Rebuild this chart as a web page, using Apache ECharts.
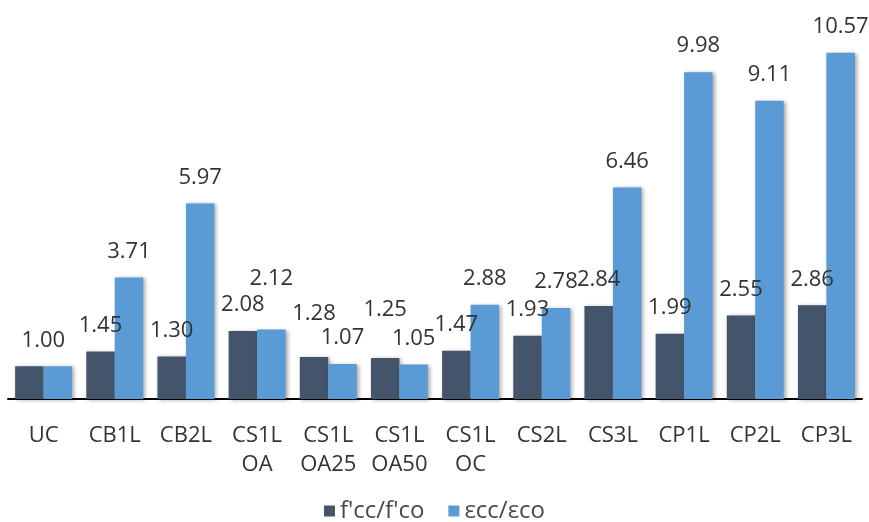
<!DOCTYPE html>
<html>
<head>
<meta charset="utf-8">
<script src="https://cdn.jsdelivr.net/npm/echarts@6/dist/echarts.min.js"></script>
<style>html,body{margin:0;padding:0;background:#fff;}#c{width:869px;height:522px;}</style>
</head>
<body>
<div id="c"></div>
<script>
var categories = ['UC','CB1L','CB2L','CS1L\nOA','CS1L\nOA25','CS1L\nOA50','CS1L\nOC','CS2L','CS3L','CP1L','CP2L','CP3L'];
var seriesNames = ["f'cc/f'co", 'εcc/εco'];
var strengthRatio = [1.00,1.45,1.30,2.08,1.28,1.25,1.47,1.93,2.84,1.99,2.55,2.86];
var strainRatio = [1.00,3.71,5.97,2.12,1.07,1.05,2.88,2.78,6.46,9.98,9.11,10.57];

// label placement tweaks (style only)
var darkLabelStyle = {0:{offset:[14,0]},4:{offset:[0,-17]},5:{offset:[0,-22]}};
var blueLabelStyle = {0:{show:false},3:{offset:[0,-25]}};

function build(values, styles){
  return values.map(function(v,i){
    var o = {value:v};
    if (styles[i]) o.label = styles[i];
    return o;
  });
}

var font = 'Open Sans';
var chart = echarts.init(document.getElementById('c'));
var lbl = {show:true, position:'top', distance:15, color:'#333333', fontSize:22, fontFamily:font,
  formatter:function(p){return p.value.toFixed(2);}};
var shadow = {shadowBlur:4, shadowOffsetX:2, shadowOffsetY:1, shadowColor:'rgba(0,0,0,0.35)'};
chart.setOption({
  animation:false,
  grid:{left:8,right:7,top:6,bottom:123,containLabel:false},
  legend:{bottom:-6,left:'center',itemWidth:11,itemHeight:11,itemGap:24,icon:'rect',
    textStyle:{fontSize:24,fontFamily:font,color:'#4a4a4a'},data:seriesNames},
  xAxis:{type:'category',data:categories,
    axisLine:{lineStyle:{color:'#000',width:2}},axisTick:{show:false},
    axisLabel:{color:'#333333',fontSize:22,fontFamily:font,lineHeight:29,margin:22,interval:0}},
  yAxis:{type:'value',min:0,max:12,show:false,splitLine:{show:false}},
  series:[
    {name:seriesNames[0],type:'bar',barGap:'0%',barCategoryGap:'20%',
     itemStyle:Object.assign({color:'#44546A'},shadow),label:lbl,data:build(strengthRatio,darkLabelStyle)},
    {name:seriesNames[1],type:'bar',barGap:'0%',barCategoryGap:'20%',
     itemStyle:Object.assign({color:'#5B9BD5'},shadow),label:lbl,data:build(strainRatio,blueLabelStyle)}
  ]
});
</script>
</body>
</html>
